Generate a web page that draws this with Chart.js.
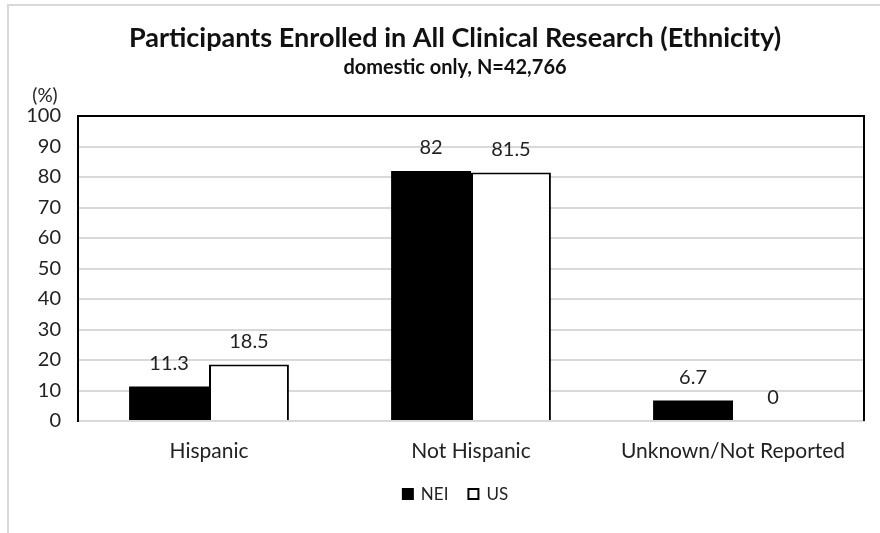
<!DOCTYPE html>
<html>
<head>
<meta charset="utf-8">
<script src="https://cdn.jsdelivr.net/npm/chart.js@4"></script>
<style>
  body { margin: 0; background: #fff; }
  #wrap { width: 880px; height: 533px; position: relative; }
</style>
</head>
<body>
<div id="wrap"><canvas id="chart" width="880" height="533"></canvas></div>
<script>
const categories = ["Hispanic", "Not Hispanic", "Unknown/Not Reported"];
const neiValues = [11.3, 82, 6.7];
const usValues = [18.5, 81.5, 0];
const seriesNames = ["NEI", "US"];
const titleText = "Participants Enrolled in All Clinical Research (Ethnicity)";
const subtitleText = "domestic only, N=42,766";

const FONT = "Lato, 'Open Sans', sans-serif";
const CENTER_X = 455; // title/legend centre, as in the original

// frames, title, "(%)" and legend
const decorPlugin = {
    id: "decor",
    beforeDraw(chart) {
        const ctx = chart.ctx;
        ctx.save();
        ctx.strokeStyle = "#d9d9d9";
        ctx.lineWidth = 2;
        ctx.beginPath();
        ctx.moveTo(8, 533);
        ctx.lineTo(8, 5);
        ctx.lineTo(880, 5);
        ctx.stroke();
        ctx.restore();
    },
    afterDraw(chart) {
        const a = chart.chartArea;
        const ctx = chart.ctx;
        ctx.save();
        ctx.strokeStyle = "#000";
        ctx.lineWidth = 2;
        ctx.beginPath();
        ctx.moveTo(a.left, a.top);
        ctx.lineTo(a.right, a.top);
        ctx.lineTo(a.right, a.bottom);
        ctx.stroke();

        ctx.textAlign = "center";
        ctx.textBaseline = "middle";
        ctx.fillStyle = "#111";
        ctx.font = "bold 27px " + FONT;
        ctx.fillText(titleText, CENTER_X, 38);
        ctx.font = "bold 20px " + FONT;
        ctx.fillText(subtitleText, CENTER_X, 68);

        ctx.fillStyle = "#222";
        ctx.font = "19px " + FONT;
        ctx.fillText("(%)", 45, 96);

        // legend
        ctx.font = "17px " + FONT;
        const box = 12, gapText = 7, gapItem = 19, y = 494;
        const items = chart.data.datasets.map((ds) => ({
            ds,
            w: box + gapText + ctx.measureText(ds.label).width,
        }));
        const total = items.reduce((s, it) => s + it.w, 0) + gapItem * (items.length - 1);
        let x = CENTER_X - total / 2;
        ctx.textAlign = "left";
        items.forEach((it) => {
            ctx.fillStyle = it.ds.backgroundColor;
            ctx.fillRect(x, y - box / 2, box, box);
            if (it.ds.borderWidth) {
                ctx.strokeStyle = it.ds.borderColor;
                ctx.lineWidth = it.ds.borderWidth;
                ctx.strokeRect(x + 1, y - box / 2 + 1, box - 2, box - 2);
            }
            ctx.fillStyle = "#222";
            ctx.fillText(it.ds.label, x + box + gapText, y + 1);
            x += it.w + gapItem;
        });
        ctx.restore();
    },
};

// value labels above each bar
const valueLabels = {
    id: "valueLabels",
    afterDatasetsDraw(chart) {
        const ctx = chart.ctx;
        ctx.save();
        ctx.fillStyle = "#222";
        ctx.font = "20px " + FONT;
        ctx.textAlign = "center";
        ctx.textBaseline = "middle";
        chart.data.datasets.forEach((ds, i) => {
            chart.getDatasetMeta(i).data.forEach((bar, j) => {
                ctx.fillText(String(ds.data[j]), bar.x, bar.y - 23);
            });
        });
        ctx.restore();
    },
};

new Chart(document.getElementById("chart"), {
    type: "bar",
    data: {
        labels: categories,
        datasets: [
            {
                label: seriesNames[0],
                data: neiValues,
                backgroundColor: "#000",
                borderWidth: 0,
            },
            {
                label: seriesNames[1],
                data: usValues,
                backgroundColor: "#fff",
                borderColor: "#000",
                borderWidth: 2,
                borderSkipped: "bottom",
            },
        ],
    },
    options: {
        responsive: false,
        animation: false,
        layout: { padding: { left: 8, right: 16, top: 116, bottom: 66 } },
        datasets: { bar: { categoryPercentage: 0.61, barPercentage: 1 } },
        plugins: {
            legend: { display: false },
            tooltip: { enabled: false },
        },
        scales: {
            x: {
                grid: { display: false },
                border: { color: "#d9d9d9", width: 2 },
                ticks: { color: "#222", font: { family: FONT, size: 21 }, padding: 10 },
                afterFit: (s) => { s.height = 46; },
            },
            y: {
                min: 0,
                max: 100,
                grid: { color: "#d9d9d9", lineWidth: 2, drawTicks: false },
                border: { color: "#000", width: 2 },
                ticks: {
                    stepSize: 10,
                    color: "#222",
                    font: { family: FONT, size: 20 },
                    padding: 17,
                },
                afterFit: (s) => { s.width = 70; },
            },
        },
    },
    plugins: [decorPlugin, valueLabels],
});
</script>
</body>
</html>
